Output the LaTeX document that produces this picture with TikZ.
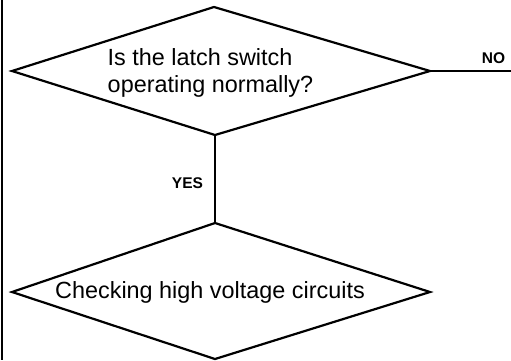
\documentclass[tikz,border=0pt]{standalone}
\usepackage{fontspec}
\setmainfont{Liberation Sans}
\begin{document}
\begin{tikzpicture}[x=1pt,y=-1pt,
  shapeline/.style={line width=2.2pt,line join=miter},
  conn/.style={line width=1.1pt},
  bigtext/.style={inner sep=0pt,font=\fontsize{23.4}{27}\selectfont},
  lbl/.style={inner sep=0pt,font=\fontsize{15.5}{18}\selectfont\bfseries}]
\useasboundingbox (0,0) rectangle (511,360);
% left border
\draw[line width=1.8pt] (1.7,0) -- (1.7,360);
% decision 1
\coordinate (d1t) at (214,7);
\coordinate (d1l) at (12,71);
\coordinate (d1r) at (430,71);
\coordinate (d1b) at (215,135);
\draw[shapeline] (d1t) -- (d1r) -- (d1b) -- (d1l) -- cycle;
\node[bigtext,align=left] (q1) at (210.5,73) {Is the latch switch\\operating normally?};
% decision 2
\coordinate (d2t) at (215,223);
\coordinate (d2l) at (12,292);
\coordinate (d2r) at (430,292);
\coordinate (d2b) at (215,359);
\draw[shapeline] (d2t) -- (d2r) -- (d2b) -- (d2l) -- cycle;
\node[bigtext] (q2) at (210,292) {Checking high voltage circuits};
% connectors
\coordinate (noend) at (511,71);
\draw[conn] (d1r) -- (noend);
\draw[conn] (d1b) -- (d2t);
\node[lbl,anchor=base] (no) at (493.5,63) {NO};
\node[lbl,anchor=base] (yes) at (187.5,188) {YES};
\end{tikzpicture}
\end{document}
